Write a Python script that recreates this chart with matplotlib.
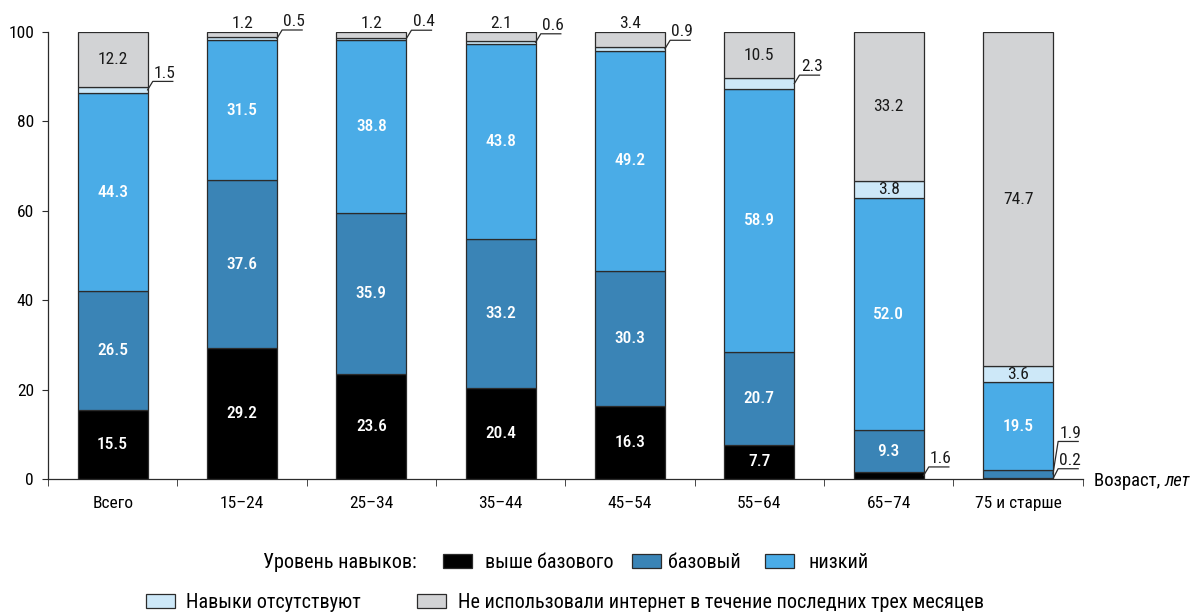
import matplotlib
matplotlib.use("Agg")
import matplotlib.pyplot as plt
from matplotlib.patches import Rectangle
import numpy as np

plt.rcParams['font.family'] = ['Roboto Condensed', 'Roboto', 'DejaVu Sans']

categories = ['Всего', '15–24', '25–34', '35–44', '45–54', '55–64', '65–74', '75 и старше']
above_basic = [15.5, 29.2, 23.6, 20.4, 16.3, 7.7, 1.6, 0.2]
basic = [26.5, 37.6, 35.9, 33.2, 30.3, 20.7, 9.3, 1.9]
low = [44.3, 31.5, 38.8, 43.8, 49.2, 58.9, 52.0, 19.5]
no_skills = [1.5, 0.5, 0.4, 0.6, 0.9, 2.3, 3.8, 3.6]
not_used = [12.2, 1.2, 1.2, 2.1, 3.4, 10.5, 33.2, 74.7]

series_names = ['выше базового', 'базовый', 'низкий', 'Навыки отсутствуют',
                'Не использовали интернет в течение последних трех месяцев']
colors = ['#000000', '#3a84b6', '#4aace7', '#cde8f8', '#d2d3d5']
text_colors = ['white', 'white', 'white', '#1a1a1a', '#1a1a1a']

yticks = [0, 20, 40, 60, 80, 100]

fig = plt.figure(figsize=(11.94, 6.12), dpi=100)
ax = fig.add_axes([0.0402, 0.2173, 0.9068 - 0.0402, 0.9477 - 0.2173])

x = np.arange(len(categories))
width = 0.54
series = [above_basic, basic, low, no_skills, not_used]
bottom = np.zeros(len(categories))
for vals, col in zip(series, colors):
    ax.bar(x, vals, width, bottom=bottom, color=col, edgecolor='#2b2b2b',
           linewidth=0.9, zorder=2)
    bottom += np.array(vals)

fs = 12.5
fs_legend = 14.5

# labels inside segments that are tall enough
MIN_INSIDE = 3.5
for i in range(len(categories)):
    base = 0.0
    for k, vals in enumerate(series):
        v = vals[i]
        if v >= MIN_INSIDE:
            ax.text(x[i], base + v / 2, f'{v:.1f}', ha='center', va='center',
                    color=text_colors[k], fontsize=fs, zorder=4,
                    fontweight='medium' if k < 3 else 'normal')
        base += v

# labels for thin segments: placed above the bar or with a leader line
def leader(i, y0, y1, v):
    xr = x[i] + width / 2
    x1 = xr + 0.04
    x2 = xr + 0.195
    ax.plot([xr, x1, x2], [y0, y1, y1], color='#2b2b2b', lw=0.9,
            clip_on=False, zorder=3)
    ax.text(x1 + 0.01, y1 + 0.2, f'{v:.1f}', ha='left', va='bottom',
            fontsize=fs, color='#1a1a1a', clip_on=False)

def above(i, v):
    ax.text(x[i], 100.3, f'{v:.1f}', ha='center', va='bottom',
            fontsize=fs, color='#1a1a1a', clip_on=False)

def mid(i, k):
    return sum(s[i] for s in series[:k]) + series[k][i] / 2

# "no skills" segments at the top of the bars
leader(0, mid(0, 3), mid(0, 3) + 1.9, no_skills[0])
for i in [1, 2, 3, 4]:
    above(i, not_used[i])
    leader(i, mid(i, 3), mid(i, 3) + 1.9, no_skills[i])
leader(5, mid(5, 3), mid(5, 3) + 1.9, no_skills[5])
# thin segments near the bottom
leader(6, mid(6, 0), 2.7, above_basic[6])
leader(7, mid(7, 1), 8.4, basic[7])
leader(7, 0.05, 2.3, above_basic[7])

ax.set_xlim(-0.5, 7.5)
ax.set_ylim(0, 100)
ax.set_yticks(yticks)
ax.set_yticklabels([str(t) for t in yticks], fontsize=fs)
ax.set_xticks(x)
ax.set_xticklabels(categories, fontsize=fs)
ax.tick_params(axis='x', which='major', length=0, pad=12)
ax.set_xticks(np.arange(-0.5, 8.0, 1.0), minor=True)
ax.tick_params(axis='x', which='minor', length=5, direction='out', color='#2b2b2b')
ax.tick_params(axis='y', length=4, direction='out', color='#2b2b2b', pad=6)
for side in ['top', 'right']:
    ax.spines[side].set_visible(False)
for side in ['left', 'bottom']:
    ax.spines[side].set_color('#2b2b2b')
    ax.spines[side].set_linewidth(0.9)

# axis caption to the right of the x axis
W, H = 1194.0, 612.0
cap1 = fig.text(1094 / W, 1 - 481 / H, 'Возраст, ', ha='left', va='center',
                fontsize=13.5)
fig.canvas.draw()
bb = cap1.get_window_extent()
fig.text(bb.x1 / W, 1 - 481 / H, 'лет', ha='left', va='center', fontsize=13.5,
         style='italic')

# legend drawn in figure coordinates
def fx(px):
    return px / W

def fy(py):
    return 1 - py / H

def swatch(px, py, col):
    fig.patches.append(Rectangle((fx(px), fy(py + 7)), 29 / W, 14 / H,
                                 transform=fig.transFigure, facecolor=col,
                                 edgecolor='#2b2b2b', linewidth=0.9))

fig.text(fx(263), fy(562), 'Уровень навыков:', ha='left', va='center', fontsize=fs_legend)
swatch(443, 561, colors[0])
fig.text(fx(485), fy(562), series_names[0], ha='left', va='center', fontsize=fs_legend)
swatch(632, 561, colors[1])
fig.text(fx(668), fy(562), series_names[1], ha='left', va='center', fontsize=fs_legend)
swatch(765, 561, colors[2])
fig.text(fx(808), fy(562), series_names[2], ha='left', va='center', fontsize=fs_legend)

swatch(146, 601, colors[3])
fig.text(fx(186), fy(602), series_names[3], ha='left', va='center', fontsize=fs_legend)
swatch(417, 601, colors[4])
fig.text(fx(458), fy(602), series_names[4], ha='left', va='center', fontsize=fs_legend)

fig.savefig('out.png', dpi=100)
